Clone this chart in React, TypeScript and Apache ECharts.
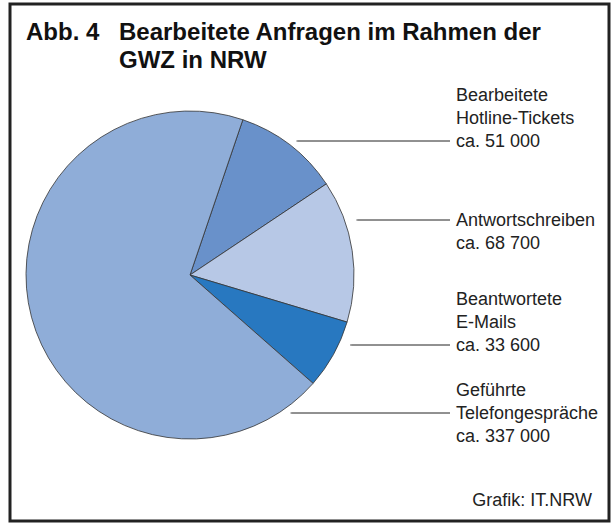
import React, { useEffect, useRef } from "react";
import * as echarts from "echarts";

const categories = ["Bearbeitete\nHotline-Tickets", "Antwortschreiben", "Beantwortete\nE-Mails", "Geführte\nTelefongespräche"];
const values = [51000, 68700, 33600, 337000];
const colors = ["#6991CA", "#B7C8E6", "#2878C0", "#8FADD8"];
const leaderY = [141, 220, 345, 413];
const leaderLine = [2, 0, 2, 1];
const titleNo = "Abb. 4";
const titleLines = "Bearbeitete Anfragen im Rahmen der\nGWZ in NRW";
const source = "Grafik: IT.NRW";

const CX = 190, CY = 275, R = 164, LH = 23;
const fmt = (v: number) => String(v).replace(/\B(?=(\d{3})+(?!\d))/g, " ");
const FONT = "'Liberation Sans', Arial, Helvetica, sans-serif";

export default function App() {
  const ref = useRef<HTMLDivElement>(null);
  useEffect(() => {
    const chart = echarts.init(ref.current!, null, { renderer: "svg" });
    chart.setOption({
      animation: false,
      backgroundColor: "#ffffff",
      graphic: [
        { type: "rect", shape: { x: 10, y: 4, width: 599, height: 517 }, style: { fill: "none", stroke: "#222", lineWidth: 3 } },
        { type: "text", x: 26, y: 31, style: { text: titleNo, font: `bold 24px ${FONT}`, fill: "#111", verticalAlign: "middle" } },
        { type: "text", x: 119, y: 31 - 14, style: { text: titleLines, font: `bold 24px ${FONT}`, fill: "#111", lineHeight: 28, verticalAlign: "top" } },
        { type: "text", x: 592, y: 500, style: { text: source, font: `18px ${FONT}`, fill: "#222", align: "right", verticalAlign: "middle" } },
      ],
      series: [
        {
          type: "pie",
          center: [CX, CY],
          radius: R,
          startAngle: 71.2,
          clockwise: true,
          avoidLabelOverlap: false,
          data: categories.map((c, i) => ({ name: c, value: values[i], itemStyle: { color: colors[i] } })),
          itemStyle: { borderColor: "#333", borderWidth: 0.8 },
          label: {
            show: true,
            position: "outside",
            formatter: (p: any) => `${p.name}\nca. ${fmt(p.value)}`,
            fontFamily: FONT,
            fontSize: 18,
            lineHeight: LH,
            color: "#222",
            align: "left",
          },
          labelLine: { show: true, smooth: false, lineStyle: { color: "#222", width: 1 } },
          labelLayout: (p: any) => {
            const i = p.dataIndex;
            const ly = leaderY[i];
            const dy = ly - CY;
            const x0 = CX + Math.sqrt(Math.max(0, R * R - dy * dy)) + 12;
            return {
              x: 456,
              y: ly - LH * leaderLine[i] - LH / 2,
              align: "left",
              verticalAlign: "top",
              labelLinePoints: [[x0, ly], [x0 + 1, ly], [450, ly]],
            };
          },
          emphasis: { disabled: true },
        },
      ],
    });
    return () => chart.dispose();
  }, []);
  return <div ref={ref} style={{ position: "fixed", left: 0, top: 0, width: 613, height: 526 }} />;
}
